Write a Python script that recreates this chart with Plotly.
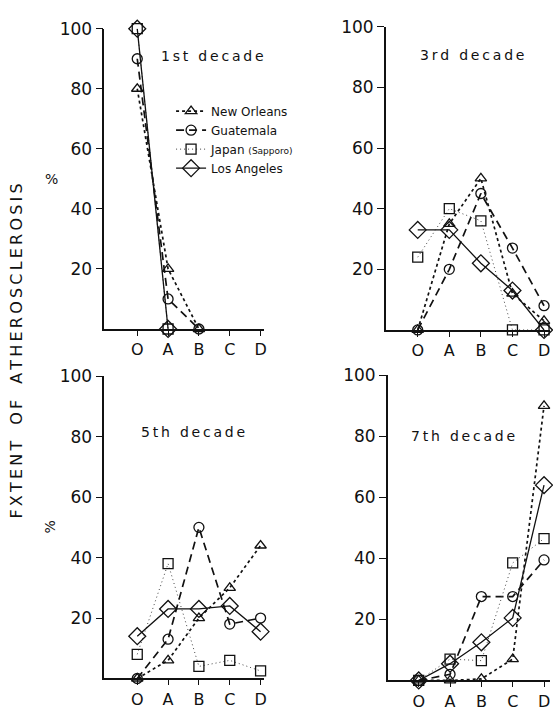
import plotly.graph_objects as go

W, H = 553, 711

categories = ["O", "A", "B", "C", "D"]
series_names = ["New Orleans", "Guatemala", "Japan <span style='font-size:9px'>(Sapporo)</span>", "Los Angeles"]

# values (%) per decade panel, order: O, A, B, C, D
dec1_new_orleans = [80, 20, 0, None, None]
dec1_guatemala = [90, 10, 0, None, None]
dec1_japan = [100, 0, None, None, None]
dec1_los_angeles = [100, 0, None, None, None]

dec3_new_orleans = [0, 35, 50, 12, 3]
dec3_guatemala = [0, 20, 45, 27, 8]
dec3_japan = [24, 40, 36, 0, 0]
dec3_los_angeles = [33, 33, 22, 13, 0]

dec5_new_orleans = [0, 6, 20, 30, 44]
dec5_guatemala = [0, 13, 50, 18, 20]
dec5_japan = [8, 38, 4, 6, 2.5]
dec5_los_angeles = [14, 23, 23, 24, 15.5]

dec7_new_orleans = [0, 0, 0.5, 7, 90]
dec7_guatemala = [0, 2, 27.5, 27.5, 39.5]
dec7_japan = [0, 7, 6.5, 38.5, 46.5]
dec7_los_angeles = [0, 5.5, 12.5, 20.5, 64]

panel_titles = ["1st decade", "3rd decade", "5th decade", "7th decade"]
y_tick_vals = [20, 40, 60, 80, 100]
y_tick_text = ["20", "40", "60", "80", "100"]

panels_data = [
    [dec1_new_orleans, dec1_guatemala, dec1_japan, dec1_los_angeles],
    [dec3_new_orleans, dec3_guatemala, dec3_japan, dec3_los_angeles],
    [dec5_new_orleans, dec5_guatemala, dec5_japan, dec5_los_angeles],
    [dec7_new_orleans, dec7_guatemala, dec7_japan, dec7_los_angeles],
]

# styles
styles = [
    dict(symbol="triangle-up-open", size=10, dash="3px,3px", width=1.7, color="#111"),
    dict(symbol="circle-open", size=10, dash="8px,5px", width=1.7, color="#111"),
    dict(symbol="square-open", size=10, dash="1px,3px", width=1.0, color="#444"),
    dict(symbol="diamond-open", size=13, dash="solid", width=1.3, color="#111"),
]

# panel geometry in pixels: axis_left, O pos, D pos, right edge, y100, y0
geom = [
    (105, 138, 262, 265, 19, 324),
    (388, 420, 547, 553, 17, 325),
    (105, 138, 262, 265, 372, 679),
    (390, 421, 547, 553, 371, 681),
]
title_pos = [(214, 47), (475, 46), (194, 429), (466, 433)]

FONT = "DejaVu Sans"
fig = go.Figure()
layout = dict(
    width=W, height=H, margin=dict(l=0, r=0, t=0, b=0),
    paper_bgcolor="white", plot_bgcolor="white",
    font=dict(family=FONT, color="#111"),
    showlegend=True,
)

xcats = list(range(len(categories)))
for i, (data, g) in enumerate(zip(panels_data, geom)):
    left, o_px, d_px, right, y100, y0 = g
    unit = (d_px - o_px) / (len(categories) - 1)
    xr = [(left - o_px) / unit, (right - o_px) / unit]
    xa = "x" if i == 0 else f"x{i+1}"
    ya = "y" if i == 0 else f"y{i+1}"
    xkey = "xaxis" if i == 0 else f"xaxis{i+1}"
    ykey = "yaxis" if i == 0 else f"yaxis{i+1}"
    layout[xkey] = dict(
        domain=[left / W, right / W], range=xr, anchor=ya,
        tickvals=xcats, ticktext=categories, ticks="outside", ticklen=5,
        tickwidth=1.3, tickcolor="#111", showline=True, linecolor="#111",
        linewidth=1.8, showgrid=False, zeroline=False,
        tickfont=dict(size=16, family=FONT, color="#111"),
    )
    layout[ykey] = dict(
        domain=[1 - y0 / H, 1 - y100 / H], range=[0, 100], anchor=xa,
        tickvals=y_tick_vals, ticktext=y_tick_text, ticks="outside", ticklen=7,
        tickwidth=1.3, tickcolor="#111", showline=True, linecolor="#111",
        linewidth=1.8, showgrid=False, zeroline=False,
        tickfont=dict(size=17, family=FONT, color="#111"),
    )
    for j, (vals, st) in enumerate(zip(data, styles)):
        fig.add_trace(go.Scatter(
            x=xcats, y=vals, xaxis=xa, yaxis=ya, mode="lines+markers",
            name=series_names[j], showlegend=(i == 0), legendgroup=str(j),
            line=dict(color=st["color"], dash=st["dash"], width=st["width"]),
            marker=dict(symbol=st["symbol"], size=st["size"], color="#111",
                        line=dict(width=1.3, color="#111")),
            cliponaxis=False, connectgaps=False,
        ))

annotations = []
for t, (tx, ty) in zip(panel_titles, title_pos):
    spaced = "\u2009".join(t)
    annotations.append(dict(text=spaced, x=tx / W, y=1 - ty / H, xref="paper", yref="paper",
                            showarrow=False, font=dict(size=14, family=FONT, color="#111"),
                            xanchor="center", yanchor="middle"))

ytitle = "FXTENT OF ATHEROSCLEROSIS"
ytitle_spaced = "\u2003".join("\u2009".join(w) for w in ytitle.split(" "))
annotations.append(dict(text=ytitle_spaced, x=17 / W, y=1 - 346 / H, xref="paper", yref="paper",
                        showarrow=False, textangle=-90,
                        font=dict(size=16, family=FONT, color="#111"),
                        xanchor="center", yanchor="middle"))
annotations.append(dict(text="%", x=52 / W, y=1 - 172 / H, xref="paper", yref="paper",
                        showarrow=False, font=dict(size=14, family=FONT, color="#111"),
                        xanchor="center", yanchor="middle"))
annotations.append(dict(text="%", x=50 / W, y=1 - 525 / H, xref="paper", yref="paper",
                        showarrow=False, textangle=-90, font=dict(size=14, family=FONT, color="#111"),
                        xanchor="center", yanchor="middle"))
layout["annotations"] = annotations

layout["legend"] = dict(
    x=172 / W, y=1 - 88 / H, xanchor="left", yanchor="top",
    bgcolor="rgba(0,0,0,0)", font=dict(size=12, family=FONT, color="#111"),
    itemwidth=30, tracegroupgap=0, traceorder="normal",
)

fig.update_layout(**layout)
fig.write_html("out.html")
